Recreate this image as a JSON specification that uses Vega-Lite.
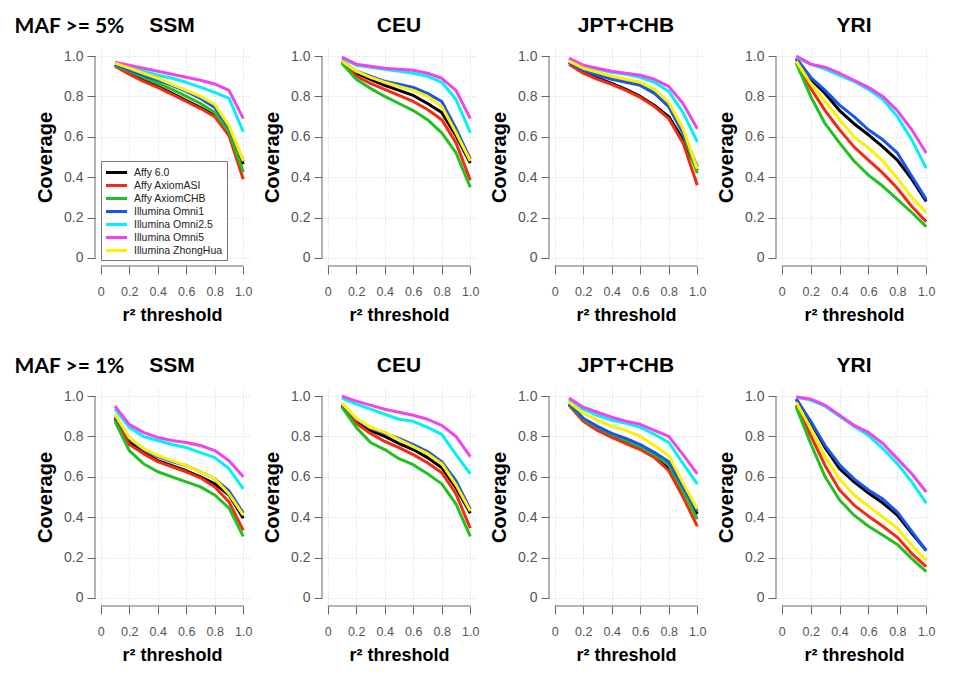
{
  "$schema": "https://vega.github.io/schema/vega-lite/v6.json",
  "background": "white",
  "padding": {"left": 14, "top": 15, "right": 4, "bottom": 4},
  "config": {
    "view": {"stroke": null},
    "font": "Liberation Sans",
    "range": {"category": ["#000000", "#f52a10", "#22c022", "#1a55f0", "#00f2f2", "#f044f0", "#fff000"]},
    "title": {"font": "Liberation Sans", "fontSize": 21, "fontWeight": "bold", "color": "#000", "frame": "group", "anchor": "middle", "offset": 12},
    "axis": {"domain": false, "tickColor": "#666", "tickSize": 8, "tickWidth": 1, "labelColor": "#555", "labelFont": "Liberation Sans", "titleFont": "Liberation Sans", "titleFontWeight": "bold", "titleColor": "#000", "grid": true, "gridColor": "#d4d4d4", "gridDash": [1, 2], "tickCount": 5, "format": ".1f", "labelExpr": "datum.value == 0 ? '0' : datum.label", "labelFlush": false, "labelOverlap": false},
    "axisX": {"labelFontSize": 12.5, "labelPadding": 11, "titleFontSize": 18, "titlePadding": 9},
    "axisY": {"labelFontSize": 14, "labelPadding": 4, "titleFontSize": 20, "titlePadding": 8},
    "line": {"strokeWidth": 3, "clip": true, "strokeJoin": "round"},
    "rule": {"color": "#666", "strokeWidth": 1}
  },
  "datasets": {
    "m5_SSM": [
      {"array":"Affy 6.0","r2":0.1,"cov":0.955},{"array":"Affy 6.0","r2":0.2,"cov":0.915},{"array":"Affy 6.0","r2":0.3,"cov":0.88},{"array":"Affy 6.0","r2":0.4,"cov":0.85},{"array":"Affy 6.0","r2":0.5,"cov":0.815},{"array":"Affy 6.0","r2":0.6,"cov":0.78},{"array":"Affy 6.0","r2":0.7,"cov":0.745},{"array":"Affy 6.0","r2":0.8,"cov":0.705},{"array":"Affy 6.0","r2":0.9,"cov":0.63},{"array":"Affy 6.0","r2":1.0,"cov":0.465},
      {"array":"Affy AxiomASI","r2":0.1,"cov":0.95},{"array":"Affy AxiomASI","r2":0.2,"cov":0.91},{"array":"Affy AxiomASI","r2":0.3,"cov":0.875},{"array":"Affy AxiomASI","r2":0.4,"cov":0.845},{"array":"Affy AxiomASI","r2":0.5,"cov":0.81},{"array":"Affy AxiomASI","r2":0.6,"cov":0.775},{"array":"Affy AxiomASI","r2":0.7,"cov":0.74},{"array":"Affy AxiomASI","r2":0.8,"cov":0.70},{"array":"Affy AxiomASI","r2":0.9,"cov":0.605},{"array":"Affy AxiomASI","r2":1.0,"cov":0.39},
      {"array":"Affy AxiomCHB","r2":0.1,"cov":0.955},{"array":"Affy AxiomCHB","r2":0.2,"cov":0.925},{"array":"Affy AxiomCHB","r2":0.3,"cov":0.895},{"array":"Affy AxiomCHB","r2":0.4,"cov":0.865},{"array":"Affy AxiomCHB","r2":0.5,"cov":0.835},{"array":"Affy AxiomCHB","r2":0.6,"cov":0.80},{"array":"Affy AxiomCHB","r2":0.7,"cov":0.765},{"array":"Affy AxiomCHB","r2":0.8,"cov":0.72},{"array":"Affy AxiomCHB","r2":0.9,"cov":0.625},{"array":"Affy AxiomCHB","r2":1.0,"cov":0.425},
      {"array":"Illumina Omni1","r2":0.1,"cov":0.96},{"array":"Illumina Omni1","r2":0.2,"cov":0.93},{"array":"Illumina Omni1","r2":0.3,"cov":0.905},{"array":"Illumina Omni1","r2":0.4,"cov":0.88},{"array":"Illumina Omni1","r2":0.5,"cov":0.855},{"array":"Illumina Omni1","r2":0.6,"cov":0.825},{"array":"Illumina Omni1","r2":0.7,"cov":0.79},{"array":"Illumina Omni1","r2":0.8,"cov":0.745},{"array":"Illumina Omni1","r2":0.9,"cov":0.645},{"array":"Illumina Omni1","r2":1.0,"cov":0.48},
      {"array":"Illumina Omni2.5","r2":0.1,"cov":0.965},{"array":"Illumina Omni2.5","r2":0.2,"cov":0.945},{"array":"Illumina Omni2.5","r2":0.3,"cov":0.925},{"array":"Illumina Omni2.5","r2":0.4,"cov":0.905},{"array":"Illumina Omni2.5","r2":0.5,"cov":0.89},{"array":"Illumina Omni2.5","r2":0.6,"cov":0.87},{"array":"Illumina Omni2.5","r2":0.7,"cov":0.845},{"array":"Illumina Omni2.5","r2":0.8,"cov":0.82},{"array":"Illumina Omni2.5","r2":0.9,"cov":0.79},{"array":"Illumina Omni2.5","r2":1.0,"cov":0.625},
      {"array":"Illumina Omni5","r2":0.1,"cov":0.97},{"array":"Illumina Omni5","r2":0.2,"cov":0.955},{"array":"Illumina Omni5","r2":0.3,"cov":0.94},{"array":"Illumina Omni5","r2":0.4,"cov":0.925},{"array":"Illumina Omni5","r2":0.5,"cov":0.91},{"array":"Illumina Omni5","r2":0.6,"cov":0.895},{"array":"Illumina Omni5","r2":0.7,"cov":0.88},{"array":"Illumina Omni5","r2":0.8,"cov":0.862},{"array":"Illumina Omni5","r2":0.9,"cov":0.83},{"array":"Illumina Omni5","r2":1.0,"cov":0.69},
      {"array":"Illumina ZhongHua","r2":0.1,"cov":0.965},{"array":"Illumina ZhongHua","r2":0.2,"cov":0.94},{"array":"Illumina ZhongHua","r2":0.3,"cov":0.915},{"array":"Illumina ZhongHua","r2":0.4,"cov":0.89},{"array":"Illumina ZhongHua","r2":0.5,"cov":0.86},{"array":"Illumina ZhongHua","r2":0.6,"cov":0.83},{"array":"Illumina ZhongHua","r2":0.7,"cov":0.80},{"array":"Illumina ZhongHua","r2":0.8,"cov":0.76},{"array":"Illumina ZhongHua","r2":0.9,"cov":0.655},{"array":"Illumina ZhongHua","r2":1.0,"cov":0.48}
    ],
    "m5_CEU": [
      {"array":"Affy 6.0","r2":0.1,"cov":0.975},{"array":"Affy 6.0","r2":0.2,"cov":0.915},{"array":"Affy 6.0","r2":0.3,"cov":0.885},{"array":"Affy 6.0","r2":0.4,"cov":0.855},{"array":"Affy 6.0","r2":0.5,"cov":0.83},{"array":"Affy 6.0","r2":0.6,"cov":0.805},{"array":"Affy 6.0","r2":0.7,"cov":0.765},{"array":"Affy 6.0","r2":0.8,"cov":0.72},{"array":"Affy 6.0","r2":0.9,"cov":0.605},{"array":"Affy 6.0","r2":1.0,"cov":0.47},
      {"array":"Affy AxiomASI","r2":0.1,"cov":0.97},{"array":"Affy AxiomASI","r2":0.2,"cov":0.90},{"array":"Affy AxiomASI","r2":0.3,"cov":0.865},{"array":"Affy AxiomASI","r2":0.4,"cov":0.835},{"array":"Affy AxiomASI","r2":0.5,"cov":0.805},{"array":"Affy AxiomASI","r2":0.6,"cov":0.775},{"array":"Affy AxiomASI","r2":0.7,"cov":0.735},{"array":"Affy AxiomASI","r2":0.8,"cov":0.685},{"array":"Affy AxiomASI","r2":0.9,"cov":0.57},{"array":"Affy AxiomASI","r2":1.0,"cov":0.385},
      {"array":"Affy AxiomCHB","r2":0.1,"cov":0.965},{"array":"Affy AxiomCHB","r2":0.2,"cov":0.885},{"array":"Affy AxiomCHB","r2":0.3,"cov":0.84},{"array":"Affy AxiomCHB","r2":0.4,"cov":0.80},{"array":"Affy AxiomCHB","r2":0.5,"cov":0.765},{"array":"Affy AxiomCHB","r2":0.6,"cov":0.73},{"array":"Affy AxiomCHB","r2":0.7,"cov":0.685},{"array":"Affy AxiomCHB","r2":0.8,"cov":0.62},{"array":"Affy AxiomCHB","r2":0.9,"cov":0.52},{"array":"Affy AxiomCHB","r2":1.0,"cov":0.35},
      {"array":"Illumina Omni1","r2":0.1,"cov":0.975},{"array":"Illumina Omni1","r2":0.2,"cov":0.925},{"array":"Illumina Omni1","r2":0.3,"cov":0.90},{"array":"Illumina Omni1","r2":0.4,"cov":0.875},{"array":"Illumina Omni1","r2":0.5,"cov":0.86},{"array":"Illumina Omni1","r2":0.6,"cov":0.845},{"array":"Illumina Omni1","r2":0.7,"cov":0.815},{"array":"Illumina Omni1","r2":0.8,"cov":0.775},{"array":"Illumina Omni1","r2":0.9,"cov":0.64},{"array":"Illumina Omni1","r2":1.0,"cov":0.49},
      {"array":"Illumina Omni2.5","r2":0.1,"cov":0.99},{"array":"Illumina Omni2.5","r2":0.2,"cov":0.955},{"array":"Illumina Omni2.5","r2":0.3,"cov":0.945},{"array":"Illumina Omni2.5","r2":0.4,"cov":0.935},{"array":"Illumina Omni2.5","r2":0.5,"cov":0.925},{"array":"Illumina Omni2.5","r2":0.6,"cov":0.915},{"array":"Illumina Omni2.5","r2":0.7,"cov":0.90},{"array":"Illumina Omni2.5","r2":0.8,"cov":0.87},{"array":"Illumina Omni2.5","r2":0.9,"cov":0.785},{"array":"Illumina Omni2.5","r2":1.0,"cov":0.62},
      {"array":"Illumina Omni5","r2":0.1,"cov":0.995},{"array":"Illumina Omni5","r2":0.2,"cov":0.96},{"array":"Illumina Omni5","r2":0.3,"cov":0.95},{"array":"Illumina Omni5","r2":0.4,"cov":0.94},{"array":"Illumina Omni5","r2":0.5,"cov":0.935},{"array":"Illumina Omni5","r2":0.6,"cov":0.93},{"array":"Illumina Omni5","r2":0.7,"cov":0.915},{"array":"Illumina Omni5","r2":0.8,"cov":0.89},{"array":"Illumina Omni5","r2":0.9,"cov":0.83},{"array":"Illumina Omni5","r2":1.0,"cov":0.69},
      {"array":"Illumina ZhongHua","r2":0.1,"cov":0.975},{"array":"Illumina ZhongHua","r2":0.2,"cov":0.925},{"array":"Illumina ZhongHua","r2":0.3,"cov":0.895},{"array":"Illumina ZhongHua","r2":0.4,"cov":0.87},{"array":"Illumina ZhongHua","r2":0.5,"cov":0.85},{"array":"Illumina ZhongHua","r2":0.6,"cov":0.83},{"array":"Illumina ZhongHua","r2":0.7,"cov":0.80},{"array":"Illumina ZhongHua","r2":0.8,"cov":0.75},{"array":"Illumina ZhongHua","r2":0.9,"cov":0.62},{"array":"Illumina ZhongHua","r2":1.0,"cov":0.48}
    ],
    "m5_JPT": [
      {"array":"Affy 6.0","r2":0.1,"cov":0.97},{"array":"Affy 6.0","r2":0.2,"cov":0.92},{"array":"Affy 6.0","r2":0.3,"cov":0.89},{"array":"Affy 6.0","r2":0.4,"cov":0.865},{"array":"Affy 6.0","r2":0.5,"cov":0.835},{"array":"Affy 6.0","r2":0.6,"cov":0.80},{"array":"Affy 6.0","r2":0.7,"cov":0.755},{"array":"Affy 6.0","r2":0.8,"cov":0.70},{"array":"Affy 6.0","r2":0.9,"cov":0.585},{"array":"Affy 6.0","r2":1.0,"cov":0.435},
      {"array":"Affy AxiomASI","r2":0.1,"cov":0.96},{"array":"Affy AxiomASI","r2":0.2,"cov":0.915},{"array":"Affy AxiomASI","r2":0.3,"cov":0.885},{"array":"Affy AxiomASI","r2":0.4,"cov":0.86},{"array":"Affy AxiomASI","r2":0.5,"cov":0.83},{"array":"Affy AxiomASI","r2":0.6,"cov":0.795},{"array":"Affy AxiomASI","r2":0.7,"cov":0.75},{"array":"Affy AxiomASI","r2":0.8,"cov":0.69},{"array":"Affy AxiomASI","r2":0.9,"cov":0.57},{"array":"Affy AxiomASI","r2":1.0,"cov":0.36},
      {"array":"Affy AxiomCHB","r2":0.1,"cov":0.97},{"array":"Affy AxiomCHB","r2":0.2,"cov":0.935},{"array":"Affy AxiomCHB","r2":0.3,"cov":0.915},{"array":"Affy AxiomCHB","r2":0.4,"cov":0.895},{"array":"Affy AxiomCHB","r2":0.5,"cov":0.88},{"array":"Affy AxiomCHB","r2":0.6,"cov":0.86},{"array":"Affy AxiomCHB","r2":0.7,"cov":0.82},{"array":"Affy AxiomCHB","r2":0.8,"cov":0.75},{"array":"Affy AxiomCHB","r2":0.9,"cov":0.615},{"array":"Affy AxiomCHB","r2":1.0,"cov":0.42},
      {"array":"Illumina Omni1","r2":0.1,"cov":0.97},{"array":"Illumina Omni1","r2":0.2,"cov":0.93},{"array":"Illumina Omni1","r2":0.3,"cov":0.905},{"array":"Illumina Omni1","r2":0.4,"cov":0.885},{"array":"Illumina Omni1","r2":0.5,"cov":0.87},{"array":"Illumina Omni1","r2":0.6,"cov":0.855},{"array":"Illumina Omni1","r2":0.7,"cov":0.815},{"array":"Illumina Omni1","r2":0.8,"cov":0.75},{"array":"Illumina Omni1","r2":0.9,"cov":0.62},{"array":"Illumina Omni1","r2":1.0,"cov":0.45},
      {"array":"Illumina Omni2.5","r2":0.1,"cov":0.985},{"array":"Illumina Omni2.5","r2":0.2,"cov":0.95},{"array":"Illumina Omni2.5","r2":0.3,"cov":0.935},{"array":"Illumina Omni2.5","r2":0.4,"cov":0.92},{"array":"Illumina Omni2.5","r2":0.5,"cov":0.91},{"array":"Illumina Omni2.5","r2":0.6,"cov":0.895},{"array":"Illumina Omni2.5","r2":0.7,"cov":0.87},{"array":"Illumina Omni2.5","r2":0.8,"cov":0.825},{"array":"Illumina Omni2.5","r2":0.9,"cov":0.72},{"array":"Illumina Omni2.5","r2":1.0,"cov":0.575},
      {"array":"Illumina Omni5","r2":0.1,"cov":0.99},{"array":"Illumina Omni5","r2":0.2,"cov":0.955},{"array":"Illumina Omni5","r2":0.3,"cov":0.94},{"array":"Illumina Omni5","r2":0.4,"cov":0.925},{"array":"Illumina Omni5","r2":0.5,"cov":0.915},{"array":"Illumina Omni5","r2":0.6,"cov":0.905},{"array":"Illumina Omni5","r2":0.7,"cov":0.885},{"array":"Illumina Omni5","r2":0.8,"cov":0.85},{"array":"Illumina Omni5","r2":0.9,"cov":0.765},{"array":"Illumina Omni5","r2":1.0,"cov":0.64},
      {"array":"Illumina ZhongHua","r2":0.1,"cov":0.975},{"array":"Illumina ZhongHua","r2":0.2,"cov":0.94},{"array":"Illumina ZhongHua","r2":0.3,"cov":0.92},{"array":"Illumina ZhongHua","r2":0.4,"cov":0.90},{"array":"Illumina ZhongHua","r2":0.5,"cov":0.885},{"array":"Illumina ZhongHua","r2":0.6,"cov":0.87},{"array":"Illumina ZhongHua","r2":0.7,"cov":0.835},{"array":"Illumina ZhongHua","r2":0.8,"cov":0.77},{"array":"Illumina ZhongHua","r2":0.9,"cov":0.64},{"array":"Illumina ZhongHua","r2":1.0,"cov":0.44}
    ],
    "m5_YRI": [
      {"array":"Affy 6.0","r2":0.1,"cov":0.985},{"array":"Affy 6.0","r2":0.2,"cov":0.885},{"array":"Affy 6.0","r2":0.3,"cov":0.815},{"array":"Affy 6.0","r2":0.4,"cov":0.73},{"array":"Affy 6.0","r2":0.5,"cov":0.665},{"array":"Affy 6.0","r2":0.6,"cov":0.61},{"array":"Affy 6.0","r2":0.7,"cov":0.55},{"array":"Affy 6.0","r2":0.8,"cov":0.485},{"array":"Affy 6.0","r2":0.9,"cov":0.39},{"array":"Affy 6.0","r2":1.0,"cov":0.28},
      {"array":"Affy AxiomASI","r2":0.1,"cov":0.97},{"array":"Affy AxiomASI","r2":0.2,"cov":0.84},{"array":"Affy AxiomASI","r2":0.3,"cov":0.73},{"array":"Affy AxiomASI","r2":0.4,"cov":0.635},{"array":"Affy AxiomASI","r2":0.5,"cov":0.55},{"array":"Affy AxiomASI","r2":0.6,"cov":0.485},{"array":"Affy AxiomASI","r2":0.7,"cov":0.42},{"array":"Affy AxiomASI","r2":0.8,"cov":0.345},{"array":"Affy AxiomASI","r2":0.9,"cov":0.255},{"array":"Affy AxiomASI","r2":1.0,"cov":0.18},
      {"array":"Affy AxiomCHB","r2":0.1,"cov":0.965},{"array":"Affy AxiomCHB","r2":0.2,"cov":0.80},{"array":"Affy AxiomCHB","r2":0.3,"cov":0.665},{"array":"Affy AxiomCHB","r2":0.4,"cov":0.57},{"array":"Affy AxiomCHB","r2":0.5,"cov":0.48},{"array":"Affy AxiomCHB","r2":0.6,"cov":0.41},{"array":"Affy AxiomCHB","r2":0.7,"cov":0.355},{"array":"Affy AxiomCHB","r2":0.8,"cov":0.29},{"array":"Affy AxiomCHB","r2":0.9,"cov":0.225},{"array":"Affy AxiomCHB","r2":1.0,"cov":0.155},
      {"array":"Illumina Omni1","r2":0.1,"cov":0.99},{"array":"Illumina Omni1","r2":0.2,"cov":0.895},{"array":"Illumina Omni1","r2":0.3,"cov":0.83},{"array":"Illumina Omni1","r2":0.4,"cov":0.757},{"array":"Illumina Omni1","r2":0.5,"cov":0.70},{"array":"Illumina Omni1","r2":0.6,"cov":0.635},{"array":"Illumina Omni1","r2":0.7,"cov":0.585},{"array":"Illumina Omni1","r2":0.8,"cov":0.52},{"array":"Illumina Omni1","r2":0.9,"cov":0.405},{"array":"Illumina Omni1","r2":1.0,"cov":0.29},
      {"array":"Illumina Omni2.5","r2":0.1,"cov":0.995},{"array":"Illumina Omni2.5","r2":0.2,"cov":0.96},{"array":"Illumina Omni2.5","r2":0.3,"cov":0.935},{"array":"Illumina Omni2.5","r2":0.4,"cov":0.905},{"array":"Illumina Omni2.5","r2":0.5,"cov":0.875},{"array":"Illumina Omni2.5","r2":0.6,"cov":0.835},{"array":"Illumina Omni2.5","r2":0.7,"cov":0.785},{"array":"Illumina Omni2.5","r2":0.8,"cov":0.70},{"array":"Illumina Omni2.5","r2":0.9,"cov":0.585},{"array":"Illumina Omni2.5","r2":1.0,"cov":0.445},
      {"array":"Illumina Omni5","r2":0.1,"cov":1.0},{"array":"Illumina Omni5","r2":0.2,"cov":0.96},{"array":"Illumina Omni5","r2":0.3,"cov":0.945},{"array":"Illumina Omni5","r2":0.4,"cov":0.915},{"array":"Illumina Omni5","r2":0.5,"cov":0.88},{"array":"Illumina Omni5","r2":0.6,"cov":0.845},{"array":"Illumina Omni5","r2":0.7,"cov":0.80},{"array":"Illumina Omni5","r2":0.8,"cov":0.73},{"array":"Illumina Omni5","r2":0.9,"cov":0.635},{"array":"Illumina Omni5","r2":1.0,"cov":0.52},
      {"array":"Illumina ZhongHua","r2":0.1,"cov":0.975},{"array":"Illumina ZhongHua","r2":0.2,"cov":0.865},{"array":"Illumina ZhongHua","r2":0.3,"cov":0.775},{"array":"Illumina ZhongHua","r2":0.4,"cov":0.685},{"array":"Illumina ZhongHua","r2":0.5,"cov":0.60},{"array":"Illumina ZhongHua","r2":0.6,"cov":0.545},{"array":"Illumina ZhongHua","r2":0.7,"cov":0.48},{"array":"Illumina ZhongHua","r2":0.8,"cov":0.395},{"array":"Illumina ZhongHua","r2":0.9,"cov":0.30},{"array":"Illumina ZhongHua","r2":1.0,"cov":0.225}
    ],
    "m1_SSM": [
      {"array":"Affy 6.0","r2":0.1,"cov":0.89},{"array":"Affy 6.0","r2":0.2,"cov":0.77},{"array":"Affy 6.0","r2":0.3,"cov":0.72},{"array":"Affy 6.0","r2":0.4,"cov":0.68},{"array":"Affy 6.0","r2":0.5,"cov":0.655},{"array":"Affy 6.0","r2":0.6,"cov":0.63},{"array":"Affy 6.0","r2":0.7,"cov":0.60},{"array":"Affy 6.0","r2":0.8,"cov":0.565},{"array":"Affy 6.0","r2":0.9,"cov":0.51},{"array":"Affy 6.0","r2":1.0,"cov":0.395},
      {"array":"Affy AxiomASI","r2":0.1,"cov":0.885},{"array":"Affy AxiomASI","r2":0.2,"cov":0.76},{"array":"Affy AxiomASI","r2":0.3,"cov":0.715},{"array":"Affy AxiomASI","r2":0.4,"cov":0.675},{"array":"Affy AxiomASI","r2":0.5,"cov":0.65},{"array":"Affy AxiomASI","r2":0.6,"cov":0.625},{"array":"Affy AxiomASI","r2":0.7,"cov":0.595},{"array":"Affy AxiomASI","r2":0.8,"cov":0.55},{"array":"Affy AxiomASI","r2":0.9,"cov":0.475},{"array":"Affy AxiomASI","r2":1.0,"cov":0.335},
      {"array":"Affy AxiomCHB","r2":0.1,"cov":0.875},{"array":"Affy AxiomCHB","r2":0.2,"cov":0.73},{"array":"Affy AxiomCHB","r2":0.3,"cov":0.665},{"array":"Affy AxiomCHB","r2":0.4,"cov":0.625},{"array":"Affy AxiomCHB","r2":0.5,"cov":0.60},{"array":"Affy AxiomCHB","r2":0.6,"cov":0.575},{"array":"Affy AxiomCHB","r2":0.7,"cov":0.55},{"array":"Affy AxiomCHB","r2":0.8,"cov":0.51},{"array":"Affy AxiomCHB","r2":0.9,"cov":0.445},{"array":"Affy AxiomCHB","r2":1.0,"cov":0.305},
      {"array":"Illumina Omni1","r2":0.1,"cov":0.90},{"array":"Illumina Omni1","r2":0.2,"cov":0.79},{"array":"Illumina Omni1","r2":0.3,"cov":0.735},{"array":"Illumina Omni1","r2":0.4,"cov":0.70},{"array":"Illumina Omni1","r2":0.5,"cov":0.675},{"array":"Illumina Omni1","r2":0.6,"cov":0.655},{"array":"Illumina Omni1","r2":0.7,"cov":0.625},{"array":"Illumina Omni1","r2":0.8,"cov":0.59},{"array":"Illumina Omni1","r2":0.9,"cov":0.53},{"array":"Illumina Omni1","r2":1.0,"cov":0.42},
      {"array":"Illumina Omni2.5","r2":0.1,"cov":0.935},{"array":"Illumina Omni2.5","r2":0.2,"cov":0.845},{"array":"Illumina Omni2.5","r2":0.3,"cov":0.80},{"array":"Illumina Omni2.5","r2":0.4,"cov":0.78},{"array":"Illumina Omni2.5","r2":0.5,"cov":0.76},{"array":"Illumina Omni2.5","r2":0.6,"cov":0.745},{"array":"Illumina Omni2.5","r2":0.7,"cov":0.72},{"array":"Illumina Omni2.5","r2":0.8,"cov":0.695},{"array":"Illumina Omni2.5","r2":0.9,"cov":0.64},{"array":"Illumina Omni2.5","r2":1.0,"cov":0.54},
      {"array":"Illumina Omni5","r2":0.1,"cov":0.95},{"array":"Illumina Omni5","r2":0.2,"cov":0.86},{"array":"Illumina Omni5","r2":0.3,"cov":0.82},{"array":"Illumina Omni5","r2":0.4,"cov":0.795},{"array":"Illumina Omni5","r2":0.5,"cov":0.78},{"array":"Illumina Omni5","r2":0.6,"cov":0.77},{"array":"Illumina Omni5","r2":0.7,"cov":0.755},{"array":"Illumina Omni5","r2":0.8,"cov":0.73},{"array":"Illumina Omni5","r2":0.9,"cov":0.68},{"array":"Illumina Omni5","r2":1.0,"cov":0.60},
      {"array":"Illumina ZhongHua","r2":0.1,"cov":0.91},{"array":"Illumina ZhongHua","r2":0.2,"cov":0.795},{"array":"Illumina ZhongHua","r2":0.3,"cov":0.74},{"array":"Illumina ZhongHua","r2":0.4,"cov":0.705},{"array":"Illumina ZhongHua","r2":0.5,"cov":0.68},{"array":"Illumina ZhongHua","r2":0.6,"cov":0.655},{"array":"Illumina ZhongHua","r2":0.7,"cov":0.625},{"array":"Illumina ZhongHua","r2":0.8,"cov":0.59},{"array":"Illumina ZhongHua","r2":0.9,"cov":0.515},{"array":"Illumina ZhongHua","r2":1.0,"cov":0.41}
    ],
    "m1_CEU": [
      {"array":"Affy 6.0","r2":0.1,"cov":0.955},{"array":"Affy 6.0","r2":0.2,"cov":0.875},{"array":"Affy 6.0","r2":0.3,"cov":0.83},{"array":"Affy 6.0","r2":0.4,"cov":0.80},{"array":"Affy 6.0","r2":0.5,"cov":0.765},{"array":"Affy 6.0","r2":0.6,"cov":0.735},{"array":"Affy 6.0","r2":0.7,"cov":0.695},{"array":"Affy 6.0","r2":0.8,"cov":0.645},{"array":"Affy 6.0","r2":0.9,"cov":0.545},{"array":"Affy 6.0","r2":1.0,"cov":0.42},
      {"array":"Affy AxiomASI","r2":0.1,"cov":0.95},{"array":"Affy AxiomASI","r2":0.2,"cov":0.865},{"array":"Affy AxiomASI","r2":0.3,"cov":0.815},{"array":"Affy AxiomASI","r2":0.4,"cov":0.775},{"array":"Affy AxiomASI","r2":0.5,"cov":0.745},{"array":"Affy AxiomASI","r2":0.6,"cov":0.71},{"array":"Affy AxiomASI","r2":0.7,"cov":0.67},{"array":"Affy AxiomASI","r2":0.8,"cov":0.62},{"array":"Affy AxiomASI","r2":0.9,"cov":0.515},{"array":"Affy AxiomASI","r2":1.0,"cov":0.345},
      {"array":"Affy AxiomCHB","r2":0.1,"cov":0.945},{"array":"Affy AxiomCHB","r2":0.2,"cov":0.845},{"array":"Affy AxiomCHB","r2":0.3,"cov":0.77},{"array":"Affy AxiomCHB","r2":0.4,"cov":0.735},{"array":"Affy AxiomCHB","r2":0.5,"cov":0.69},{"array":"Affy AxiomCHB","r2":0.6,"cov":0.66},{"array":"Affy AxiomCHB","r2":0.7,"cov":0.615},{"array":"Affy AxiomCHB","r2":0.8,"cov":0.565},{"array":"Affy AxiomCHB","r2":0.9,"cov":0.465},{"array":"Affy AxiomCHB","r2":1.0,"cov":0.305},
      {"array":"Illumina Omni1","r2":0.1,"cov":0.96},{"array":"Illumina Omni1","r2":0.2,"cov":0.885},{"array":"Illumina Omni1","r2":0.3,"cov":0.84},{"array":"Illumina Omni1","r2":0.4,"cov":0.815},{"array":"Illumina Omni1","r2":0.5,"cov":0.79},{"array":"Illumina Omni1","r2":0.6,"cov":0.76},{"array":"Illumina Omni1","r2":0.7,"cov":0.725},{"array":"Illumina Omni1","r2":0.8,"cov":0.675},{"array":"Illumina Omni1","r2":0.9,"cov":0.58},{"array":"Illumina Omni1","r2":1.0,"cov":0.44},
      {"array":"Illumina Omni2.5","r2":0.1,"cov":0.99},{"array":"Illumina Omni2.5","r2":0.2,"cov":0.96},{"array":"Illumina Omni2.5","r2":0.3,"cov":0.935},{"array":"Illumina Omni2.5","r2":0.4,"cov":0.91},{"array":"Illumina Omni2.5","r2":0.5,"cov":0.885},{"array":"Illumina Omni2.5","r2":0.6,"cov":0.875},{"array":"Illumina Omni2.5","r2":0.7,"cov":0.845},{"array":"Illumina Omni2.5","r2":0.8,"cov":0.81},{"array":"Illumina Omni2.5","r2":0.9,"cov":0.71},{"array":"Illumina Omni2.5","r2":1.0,"cov":0.615},
      {"array":"Illumina Omni5","r2":0.1,"cov":1.0},{"array":"Illumina Omni5","r2":0.2,"cov":0.975},{"array":"Illumina Omni5","r2":0.3,"cov":0.955},{"array":"Illumina Omni5","r2":0.4,"cov":0.935},{"array":"Illumina Omni5","r2":0.5,"cov":0.92},{"array":"Illumina Omni5","r2":0.6,"cov":0.905},{"array":"Illumina Omni5","r2":0.7,"cov":0.885},{"array":"Illumina Omni5","r2":0.8,"cov":0.855},{"array":"Illumina Omni5","r2":0.9,"cov":0.80},{"array":"Illumina Omni5","r2":1.0,"cov":0.70},
      {"array":"Illumina ZhongHua","r2":0.1,"cov":0.965},{"array":"Illumina ZhongHua","r2":0.2,"cov":0.89},{"array":"Illumina ZhongHua","r2":0.3,"cov":0.845},{"array":"Illumina ZhongHua","r2":0.4,"cov":0.82},{"array":"Illumina ZhongHua","r2":0.5,"cov":0.785},{"array":"Illumina ZhongHua","r2":0.6,"cov":0.75},{"array":"Illumina ZhongHua","r2":0.7,"cov":0.715},{"array":"Illumina ZhongHua","r2":0.8,"cov":0.665},{"array":"Illumina ZhongHua","r2":0.9,"cov":0.56},{"array":"Illumina ZhongHua","r2":1.0,"cov":0.43}
    ],
    "m1_JPT": [
      {"array":"Affy 6.0","r2":0.1,"cov":0.96},{"array":"Affy 6.0","r2":0.2,"cov":0.88},{"array":"Affy 6.0","r2":0.3,"cov":0.835},{"array":"Affy 6.0","r2":0.4,"cov":0.80},{"array":"Affy 6.0","r2":0.5,"cov":0.77},{"array":"Affy 6.0","r2":0.6,"cov":0.74},{"array":"Affy 6.0","r2":0.7,"cov":0.70},{"array":"Affy 6.0","r2":0.8,"cov":0.64},{"array":"Affy 6.0","r2":0.9,"cov":0.53},{"array":"Affy 6.0","r2":1.0,"cov":0.415},
      {"array":"Affy AxiomASI","r2":0.1,"cov":0.955},{"array":"Affy AxiomASI","r2":0.2,"cov":0.875},{"array":"Affy AxiomASI","r2":0.3,"cov":0.83},{"array":"Affy AxiomASI","r2":0.4,"cov":0.795},{"array":"Affy AxiomASI","r2":0.5,"cov":0.765},{"array":"Affy AxiomASI","r2":0.6,"cov":0.735},{"array":"Affy AxiomASI","r2":0.7,"cov":0.695},{"array":"Affy AxiomASI","r2":0.8,"cov":0.63},{"array":"Affy AxiomASI","r2":0.9,"cov":0.50},{"array":"Affy AxiomASI","r2":1.0,"cov":0.355},
      {"array":"Affy AxiomCHB","r2":0.1,"cov":0.96},{"array":"Affy AxiomCHB","r2":0.2,"cov":0.885},{"array":"Affy AxiomCHB","r2":0.3,"cov":0.845},{"array":"Affy AxiomCHB","r2":0.4,"cov":0.81},{"array":"Affy AxiomCHB","r2":0.5,"cov":0.78},{"array":"Affy AxiomCHB","r2":0.6,"cov":0.75},{"array":"Affy AxiomCHB","r2":0.7,"cov":0.71},{"array":"Affy AxiomCHB","r2":0.8,"cov":0.66},{"array":"Affy AxiomCHB","r2":0.9,"cov":0.53},{"array":"Affy AxiomCHB","r2":1.0,"cov":0.39},
      {"array":"Illumina Omni1","r2":0.1,"cov":0.965},{"array":"Illumina Omni1","r2":0.2,"cov":0.89},{"array":"Illumina Omni1","r2":0.3,"cov":0.85},{"array":"Illumina Omni1","r2":0.4,"cov":0.815},{"array":"Illumina Omni1","r2":0.5,"cov":0.79},{"array":"Illumina Omni1","r2":0.6,"cov":0.76},{"array":"Illumina Omni1","r2":0.7,"cov":0.72},{"array":"Illumina Omni1","r2":0.8,"cov":0.675},{"array":"Illumina Omni1","r2":0.9,"cov":0.55},{"array":"Illumina Omni1","r2":1.0,"cov":0.43},
      {"array":"Illumina Omni2.5","r2":0.1,"cov":0.98},{"array":"Illumina Omni2.5","r2":0.2,"cov":0.935},{"array":"Illumina Omni2.5","r2":0.3,"cov":0.905},{"array":"Illumina Omni2.5","r2":0.4,"cov":0.88},{"array":"Illumina Omni2.5","r2":0.5,"cov":0.865},{"array":"Illumina Omni2.5","r2":0.6,"cov":0.845},{"array":"Illumina Omni2.5","r2":0.7,"cov":0.81},{"array":"Illumina Omni2.5","r2":0.8,"cov":0.77},{"array":"Illumina Omni2.5","r2":0.9,"cov":0.665},{"array":"Illumina Omni2.5","r2":1.0,"cov":0.565},
      {"array":"Illumina Omni5","r2":0.1,"cov":0.99},{"array":"Illumina Omni5","r2":0.2,"cov":0.945},{"array":"Illumina Omni5","r2":0.3,"cov":0.92},{"array":"Illumina Omni5","r2":0.4,"cov":0.895},{"array":"Illumina Omni5","r2":0.5,"cov":0.875},{"array":"Illumina Omni5","r2":0.6,"cov":0.86},{"array":"Illumina Omni5","r2":0.7,"cov":0.83},{"array":"Illumina Omni5","r2":0.8,"cov":0.80},{"array":"Illumina Omni5","r2":0.9,"cov":0.71},{"array":"Illumina Omni5","r2":1.0,"cov":0.615},
      {"array":"Illumina ZhongHua","r2":0.1,"cov":0.97},{"array":"Illumina ZhongHua","r2":0.2,"cov":0.915},{"array":"Illumina ZhongHua","r2":0.3,"cov":0.88},{"array":"Illumina ZhongHua","r2":0.4,"cov":0.85},{"array":"Illumina ZhongHua","r2":0.5,"cov":0.83},{"array":"Illumina ZhongHua","r2":0.6,"cov":0.80},{"array":"Illumina ZhongHua","r2":0.7,"cov":0.755},{"array":"Illumina ZhongHua","r2":0.8,"cov":0.705},{"array":"Illumina ZhongHua","r2":0.9,"cov":0.57},{"array":"Illumina ZhongHua","r2":1.0,"cov":0.44}
    ],
    "m1_YRI": [
      {"array":"Affy 6.0","r2":0.1,"cov":0.985},{"array":"Affy 6.0","r2":0.2,"cov":0.87},{"array":"Affy 6.0","r2":0.3,"cov":0.745},{"array":"Affy 6.0","r2":0.4,"cov":0.64},{"array":"Affy 6.0","r2":0.5,"cov":0.575},{"array":"Affy 6.0","r2":0.6,"cov":0.52},{"array":"Affy 6.0","r2":0.7,"cov":0.47},{"array":"Affy 6.0","r2":0.8,"cov":0.41},{"array":"Affy 6.0","r2":0.9,"cov":0.32},{"array":"Affy 6.0","r2":1.0,"cov":0.235},
      {"array":"Affy AxiomASI","r2":0.1,"cov":0.955},{"array":"Affy AxiomASI","r2":0.2,"cov":0.805},{"array":"Affy AxiomASI","r2":0.3,"cov":0.655},{"array":"Affy AxiomASI","r2":0.4,"cov":0.535},{"array":"Affy AxiomASI","r2":0.5,"cov":0.46},{"array":"Affy AxiomASI","r2":0.6,"cov":0.405},{"array":"Affy AxiomASI","r2":0.7,"cov":0.355},{"array":"Affy AxiomASI","r2":0.8,"cov":0.30},{"array":"Affy AxiomASI","r2":0.9,"cov":0.22},{"array":"Affy AxiomASI","r2":1.0,"cov":0.155},
      {"array":"Affy AxiomCHB","r2":0.1,"cov":0.945},{"array":"Affy AxiomCHB","r2":0.2,"cov":0.765},{"array":"Affy AxiomCHB","r2":0.3,"cov":0.60},{"array":"Affy AxiomCHB","r2":0.4,"cov":0.485},{"array":"Affy AxiomCHB","r2":0.5,"cov":0.41},{"array":"Affy AxiomCHB","r2":0.6,"cov":0.355},{"array":"Affy AxiomCHB","r2":0.7,"cov":0.31},{"array":"Affy AxiomCHB","r2":0.8,"cov":0.265},{"array":"Affy AxiomCHB","r2":0.9,"cov":0.195},{"array":"Affy AxiomCHB","r2":1.0,"cov":0.13},
      {"array":"Illumina Omni1","r2":0.1,"cov":0.985},{"array":"Illumina Omni1","r2":0.2,"cov":0.875},{"array":"Illumina Omni1","r2":0.3,"cov":0.755},{"array":"Illumina Omni1","r2":0.4,"cov":0.66},{"array":"Illumina Omni1","r2":0.5,"cov":0.59},{"array":"Illumina Omni1","r2":0.6,"cov":0.535},{"array":"Illumina Omni1","r2":0.7,"cov":0.49},{"array":"Illumina Omni1","r2":0.8,"cov":0.425},{"array":"Illumina Omni1","r2":0.9,"cov":0.33},{"array":"Illumina Omni1","r2":1.0,"cov":0.235},
      {"array":"Illumina Omni2.5","r2":0.1,"cov":0.995},{"array":"Illumina Omni2.5","r2":0.2,"cov":0.98},{"array":"Illumina Omni2.5","r2":0.3,"cov":0.95},{"array":"Illumina Omni2.5","r2":0.4,"cov":0.90},{"array":"Illumina Omni2.5","r2":0.5,"cov":0.85},{"array":"Illumina Omni2.5","r2":0.6,"cov":0.805},{"array":"Illumina Omni2.5","r2":0.7,"cov":0.74},{"array":"Illumina Omni2.5","r2":0.8,"cov":0.665},{"array":"Illumina Omni2.5","r2":0.9,"cov":0.575},{"array":"Illumina Omni2.5","r2":1.0,"cov":0.47},
      {"array":"Illumina Omni5","r2":0.1,"cov":0.995},{"array":"Illumina Omni5","r2":0.2,"cov":0.985},{"array":"Illumina Omni5","r2":0.3,"cov":0.955},{"array":"Illumina Omni5","r2":0.4,"cov":0.905},{"array":"Illumina Omni5","r2":0.5,"cov":0.855},{"array":"Illumina Omni5","r2":0.6,"cov":0.82},{"array":"Illumina Omni5","r2":0.7,"cov":0.765},{"array":"Illumina Omni5","r2":0.8,"cov":0.69},{"array":"Illumina Omni5","r2":0.9,"cov":0.615},{"array":"Illumina Omni5","r2":1.0,"cov":0.525},
      {"array":"Illumina ZhongHua","r2":0.1,"cov":0.97},{"array":"Illumina ZhongHua","r2":0.2,"cov":0.84},{"array":"Illumina ZhongHua","r2":0.3,"cov":0.70},{"array":"Illumina ZhongHua","r2":0.4,"cov":0.59},{"array":"Illumina ZhongHua","r2":0.5,"cov":0.51},{"array":"Illumina ZhongHua","r2":0.6,"cov":0.455},{"array":"Illumina ZhongHua","r2":0.7,"cov":0.40},{"array":"Illumina ZhongHua","r2":0.8,"cov":0.345},{"array":"Illumina ZhongHua","r2":0.9,"cov":0.26},{"array":"Illumina ZhongHua","r2":1.0,"cov":0.185}
    ]
  },
  "resolve": {"scale": {"color": "independent"}},
  "spacing": 30,
  "vconcat": [
    {
      "title": {"text": "MAF >= 5%", "anchor": "start", "frame": "bounds", "font": "Lato", "fontSize": 21, "fontWeight": "bold", "offset": 0, "dx": -21, "dy": 22},
      "spacing": 10,
      "resolve": {"scale": {"color": "independent"}},
      "hconcat": [
        {"width": 154, "height": 218, "title": "SSM", "layer": [
          {"data": {"name": "m5_SSM"}, "mark": "line", "encoding": {
            "x": {"field": "r2", "type": "quantitative", "scale": {"domain": [-0.04, 1.04], "nice": false, "zero": false}, "title": "r² threshold"},
            "y": {"field": "cov", "type": "quantitative", "scale": {"domain": [-0.04, 1.04], "nice": false, "zero": false}, "title": "Coverage"},
            "color": {"field": "array", "type": "nominal", "legend": {"orient": "bottom-left", "offset": 6, "title": null, "symbolType": "M-1.85,0H1.85", "symbolStrokeWidth": 3, "symbolSize": 130, "symbolOffset": 4, "labelFontSize": 10.5, "labelColor": "#222", "labelFont": "Liberation Sans", "strokeColor": "#777", "fillColor": "white", "padding": 4, "rowPadding": 0, "labelOffset": 10}}}},
          {"data": {"values": [{}]}, "mark": "rule", "encoding": {"x": {"datum": -0.04}, "y": {"datum": 0}, "y2": {"datum": 1}}},
          {"data": {"values": [{}]}, "mark": "rule", "encoding": {"y": {"datum": -0.04}, "x": {"datum": 0}, "x2": {"datum": 1}}}
        ]},
        {"width": 154, "height": 218, "title": "CEU", "layer": [
          {"data": {"name": "m5_CEU"}, "mark": "line", "encoding": {
            "x": {"field": "r2", "type": "quantitative", "scale": {"domain": [-0.04, 1.04], "nice": false, "zero": false}, "title": "r² threshold"},
            "y": {"field": "cov", "type": "quantitative", "scale": {"domain": [-0.04, 1.04], "nice": false, "zero": false}, "title": "Coverage"},
            "color": {"field": "array", "type": "nominal", "legend": null}}},
          {"data": {"values": [{}]}, "mark": "rule", "encoding": {"x": {"datum": -0.04}, "y": {"datum": 0}, "y2": {"datum": 1}}},
          {"data": {"values": [{}]}, "mark": "rule", "encoding": {"y": {"datum": -0.04}, "x": {"datum": 0}, "x2": {"datum": 1}}}
        ]},
        {"width": 154, "height": 218, "title": "JPT+CHB", "layer": [
          {"data": {"name": "m5_JPT"}, "mark": "line", "encoding": {
            "x": {"field": "r2", "type": "quantitative", "scale": {"domain": [-0.04, 1.04], "nice": false, "zero": false}, "title": "r² threshold"},
            "y": {"field": "cov", "type": "quantitative", "scale": {"domain": [-0.04, 1.04], "nice": false, "zero": false}, "title": "Coverage"},
            "color": {"field": "array", "type": "nominal", "legend": null}}},
          {"data": {"values": [{}]}, "mark": "rule", "encoding": {"x": {"datum": -0.04}, "y": {"datum": 0}, "y2": {"datum": 1}}},
          {"data": {"values": [{}]}, "mark": "rule", "encoding": {"y": {"datum": -0.04}, "x": {"datum": 0}, "x2": {"datum": 1}}}
        ]},
        {"width": 156, "height": 218, "title": "YRI", "layer": [
          {"data": {"name": "m5_YRI"}, "mark": "line", "encoding": {
            "x": {"field": "r2", "type": "quantitative", "scale": {"domain": [-0.04, 1.04], "nice": false, "zero": false}, "title": "r² threshold"},
            "y": {"field": "cov", "type": "quantitative", "scale": {"domain": [-0.04, 1.04], "nice": false, "zero": false}, "title": "Coverage"},
            "color": {"field": "array", "type": "nominal", "legend": null}}},
          {"data": {"values": [{}]}, "mark": "rule", "encoding": {"x": {"datum": -0.04}, "y": {"datum": 0}, "y2": {"datum": 1}}},
          {"data": {"values": [{}]}, "mark": "rule", "encoding": {"y": {"datum": -0.04}, "x": {"datum": 0}, "x2": {"datum": 1}}}
        ]}
      ]
    },
    {
      "title": {"text": "MAF >= 1%", "anchor": "start", "frame": "bounds", "font": "Lato", "fontSize": 21, "fontWeight": "bold", "offset": 0, "dx": -21, "dy": 22},
      "spacing": 10,
      "resolve": {"scale": {"color": "independent"}},
      "hconcat": [
        {"width": 154, "height": 218, "title": "SSM", "layer": [
          {"data": {"name": "m1_SSM"}, "mark": "line", "encoding": {
            "x": {"field": "r2", "type": "quantitative", "scale": {"domain": [-0.04, 1.04], "nice": false, "zero": false}, "title": "r² threshold"},
            "y": {"field": "cov", "type": "quantitative", "scale": {"domain": [-0.04, 1.04], "nice": false, "zero": false}, "title": "Coverage"},
            "color": {"field": "array", "type": "nominal", "legend": null}}},
          {"data": {"values": [{}]}, "mark": "rule", "encoding": {"x": {"datum": -0.04}, "y": {"datum": 0}, "y2": {"datum": 1}}},
          {"data": {"values": [{}]}, "mark": "rule", "encoding": {"y": {"datum": -0.04}, "x": {"datum": 0}, "x2": {"datum": 1}}}
        ]},
        {"width": 154, "height": 218, "title": "CEU", "layer": [
          {"data": {"name": "m1_CEU"}, "mark": "line", "encoding": {
            "x": {"field": "r2", "type": "quantitative", "scale": {"domain": [-0.04, 1.04], "nice": false, "zero": false}, "title": "r² threshold"},
            "y": {"field": "cov", "type": "quantitative", "scale": {"domain": [-0.04, 1.04], "nice": false, "zero": false}, "title": "Coverage"},
            "color": {"field": "array", "type": "nominal", "legend": null}}},
          {"data": {"values": [{}]}, "mark": "rule", "encoding": {"x": {"datum": -0.04}, "y": {"datum": 0}, "y2": {"datum": 1}}},
          {"data": {"values": [{}]}, "mark": "rule", "encoding": {"y": {"datum": -0.04}, "x": {"datum": 0}, "x2": {"datum": 1}}}
        ]},
        {"width": 154, "height": 218, "title": "JPT+CHB", "layer": [
          {"data": {"name": "m1_JPT"}, "mark": "line", "encoding": {
            "x": {"field": "r2", "type": "quantitative", "scale": {"domain": [-0.04, 1.04], "nice": false, "zero": false}, "title": "r² threshold"},
            "y": {"field": "cov", "type": "quantitative", "scale": {"domain": [-0.04, 1.04], "nice": false, "zero": false}, "title": "Coverage"},
            "color": {"field": "array", "type": "nominal", "legend": null}}},
          {"data": {"values": [{}]}, "mark": "rule", "encoding": {"x": {"datum": -0.04}, "y": {"datum": 0}, "y2": {"datum": 1}}},
          {"data": {"values": [{}]}, "mark": "rule", "encoding": {"y": {"datum": -0.04}, "x": {"datum": 0}, "x2": {"datum": 1}}}
        ]},
        {"width": 156, "height": 218, "title": "YRI", "layer": [
          {"data": {"name": "m1_YRI"}, "mark": "line", "encoding": {
            "x": {"field": "r2", "type": "quantitative", "scale": {"domain": [-0.04, 1.04], "nice": false, "zero": false}, "title": "r² threshold"},
            "y": {"field": "cov", "type": "quantitative", "scale": {"domain": [-0.04, 1.04], "nice": false, "zero": false}, "title": "Coverage"},
            "color": {"field": "array", "type": "nominal", "legend": null}}},
          {"data": {"values": [{}]}, "mark": "rule", "encoding": {"x": {"datum": -0.04}, "y": {"datum": 0}, "y2": {"datum": 1}}},
          {"data": {"values": [{}]}, "mark": "rule", "encoding": {"y": {"datum": -0.04}, "x": {"datum": 0}, "x2": {"datum": 1}}}
        ]}
      ]
    }
  ]
}
